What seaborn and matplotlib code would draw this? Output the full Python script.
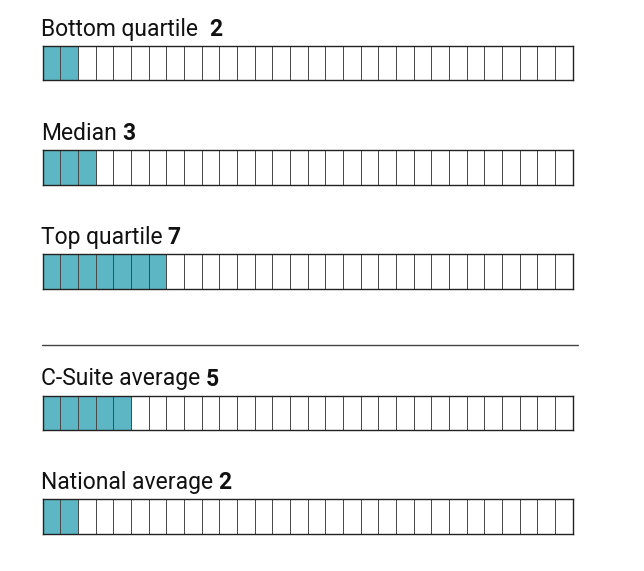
import numpy as np
import pandas as pd
import seaborn as sns
import matplotlib.pyplot as plt
from matplotlib.colors import ListedColormap

labels = ["Bottom quartile ", "Median", "Top quartile", "C-Suite average", "National average"]
values = [2, 3, 7, 5, 2]
n_cells = 30

teal = "#5DB6C4"
edge = "#4a4a4a"

sns.set_theme(style="white")
plt.rcParams['font.family'] = ['Roboto', 'DejaVu Sans']

W, H = 644, 571
fig = plt.figure(figsize=(W / 100, H / 100), dpi=100)
fig.patch.set_facecolor("white")

left_px, right_px = 42.5, 572.5
bar_h = 34.5
tops = [46, 150, 254, 395.5, 499]

for lab, val, top in zip(labels, values, tops):
    ax = fig.add_axes([left_px / W, 1 - (top + bar_h) / H, (right_px - left_px) / W, bar_h / H])
    grid = pd.DataFrame([(np.arange(n_cells) < val).astype(int)])
    sns.heatmap(grid, ax=ax, cmap=ListedColormap(["white", teal]), vmin=0, vmax=1,
                cbar=False, linewidths=0.7, linecolor=edge, xticklabels=False, yticklabels=False)
    for s in ax.spines.values():
        s.set_visible(True)
        s.set_color("#222222")
        s.set_linewidth(1.0)
    # label
    ty = 1 - (top - 10) / H
    t = fig.text(left_px / W - 0.002, ty, lab, fontsize=16.5, ha="left", va="baseline", color="#111111")
    fig.canvas.draw()
    bb = t.get_window_extent()
    fig.text(bb.x1 / W + 5 / W, ty, str(val), fontsize=16.5, fontweight="bold",
             ha="left", va="baseline", color="#111111")

# separator
fig.add_artist(plt.Line2D([42 / W, 578 / W], [1 - 345 / H] * 2, color="#444444", lw=1.0))

fig.savefig("out.png", dpi=100, facecolor="white")
